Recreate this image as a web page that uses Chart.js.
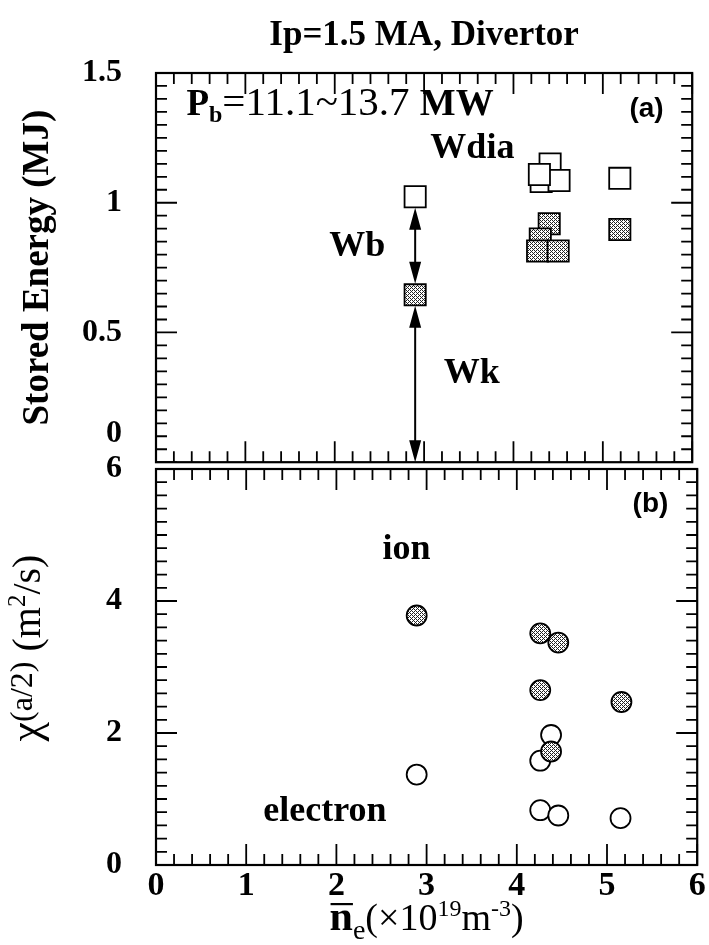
<!DOCTYPE html>
<html>
<head>
<meta charset="utf-8">
<script src="https://cdn.jsdelivr.net/npm/chart.js@4.4.1/dist/chart.umd.min.js"></script>
<style>
  html, body { margin: 0; padding: 0; background: #fff; }
  #wrap { position: relative; width: 709px; height: 945px; overflow: hidden; }
  #energy { position: absolute; left: 0; top: 0; }
  #chi { position: absolute; left: 0; top: 439px; }
</style>
</head>
<body>
<div id="wrap">
  <canvas id="energy" width="709" height="479"></canvas>
  <canvas id="chi" width="709" height="506"></canvas>
</div>
<script>
const SERIF = "'Liberation Serif', 'Times New Roman', serif";
const SANS = "'Liberation Sans', Arial, sans-serif";

// (a) stored energy vs line density
const neWdia = [2.9, 4.41, 4.31, 4.51, 4.29, 5.19];
const wdia   = [1.023, 1.149, 1.082, 1.086, 1.109, 1.094];
const neWk   = [2.9, 4.40, 4.30, 4.27, 4.50, 5.19];
const wk     = [0.645, 0.919, 0.86, 0.814, 0.814, 0.897];

// (b) diffusivity at a/2
const neIon  = [2.89, 4.26, 4.46, 4.26, 5.16, 4.38];
const chiIon = [3.78, 3.51, 3.37, 2.65, 2.47, 1.72];
const neEle  = [2.89, 4.38, 4.26, 4.26, 4.46, 5.15];
const chiEle = [1.37, 1.97, 1.58, 0.83, 0.75, 0.71];

// tick labels
const neTicks = [0, 1, 2, 3, 4, 5, 6];
const energyTicks = [0, 0.5, 1, 1.5];
const chiTicks = [0, 2, 4, 6];

const pts = (xs, ys) => xs.map((x, i) => ({ x, y: ys[i] }));

// stippled grey used for filled markers
function dither(ctx) {
  const c = document.createElement('canvas');
  c.width = 4; c.height = 4;
  const g = c.getContext('2d');
  g.fillStyle = '#fff';
  g.fillRect(0, 0, 4, 4);
  g.fillStyle = '#222';
  [[0, 0], [2, 0], [1, 1], [0, 2], [2, 2], [3, 3]].forEach(p => g.fillRect(p[0], p[1], 1, 1));
  return ctx.createPattern(c, 'repeat');
}

function drawRich(ctx, x, y, segs, align) {
  let w = 0;
  segs.forEach(s => { ctx.font = s[1]; w += ctx.measureText(s[0]).width; });
  let cx = align === 'center' ? x - w / 2 : align === 'right' ? x - w : x;
  const starts = [];
  segs.forEach(s => {
    ctx.font = s[1];
    starts.push(cx);
    ctx.fillText(s[0], cx, y + (s[2] || 0));
    cx += ctx.measureText(s[0]).width;
  });
  return starts;
}

// frame with inward ticks on all four sides
const frameTicks = {
  id: 'frameTicks',
  afterDraw(chart, args, o) {
    const { ctx, chartArea: a, scales: { x, y } } = chart;
    const mark = (axis, minor, major, cb) => {
      const n = Math.round((axis.max - axis.min) / minor);
      for (let i = 0; i <= n; i++) {
        const v = axis.min + i * minor;
        const big = Math.abs(v / major - Math.round(v / major)) < 1e-6;
        cb(axis.getPixelForValue(v), big ? 21 : 11);
      }
    };
    ctx.save();
    ctx.strokeStyle = '#000';
    ctx.lineWidth = 1.8;
    ctx.beginPath();
    mark(x, o.xMinor, o.xMajor, (p, len) => {
      ctx.moveTo(p, a.top); ctx.lineTo(p, a.top + len);
      ctx.moveTo(p, a.bottom); ctx.lineTo(p, a.bottom - len);
    });
    mark(y, o.yMinor, o.yMajor, (p, len) => {
      ctx.moveTo(a.left, p); ctx.lineTo(a.left + len, p);
      ctx.moveTo(a.right, p); ctx.lineTo(a.right - len, p);
    });
    ctx.stroke();
    ctx.lineWidth = 2.2;
    ctx.strokeRect(a.left, a.top, a.right - a.left, a.bottom - a.top);
    ctx.restore();
  }
};

function makeNotes(items) {
  return {
    id: 'notes',
    afterDraw(chart) {
      const { ctx, scales: { x, y } } = chart;
      ctx.save();
      ctx.fillStyle = '#000';
      ctx.textBaseline = 'alphabetic';
      items.forEach(n => drawRich(ctx, x.getPixelForValue(n.at[0]), y.getPixelForValue(n.at[1]), n.segs, n.align));
      ctx.restore();
    }
  };
}

function doubleArrow(ctx, x, y1, y2) {
  const hl = 22, hw = 6;
  ctx.beginPath();
  ctx.moveTo(x, y1 + hl - 2);
  ctx.lineTo(x, y2 - hl + 2);
  ctx.stroke();
  ctx.beginPath();
  ctx.moveTo(x, y1); ctx.lineTo(x - hw, y1 + hl); ctx.lineTo(x + hw, y1 + hl); ctx.closePath();
  ctx.moveTo(x, y2); ctx.lineTo(x - hw, y2 - hl); ctx.lineTo(x + hw, y2 - hl); ctx.closePath();
  ctx.fill();
}

// Wb / Wk arrows on the first shot
const wArrows = {
  id: 'wArrows',
  afterDatasetsDraw(chart) {
    const { ctx, scales: { x, y } } = chart;
    const px = x.getPixelForValue(neWdia[0]);
    const gap = 11;
    const yTop = y.getPixelForValue(wdia[0]) + gap;
    const yMid = y.getPixelForValue(wk[0]);
    const yZero = y.getPixelForValue(0);
    ctx.save();
    ctx.strokeStyle = '#000';
    ctx.fillStyle = '#000';
    ctx.lineWidth = 2;
    doubleArrow(ctx, px, yTop, yMid - gap);
    doubleArrow(ctx, px, yMid + gap, yZero);
    ctx.restore();
  }
};

const b = s => `bold ${s}px ${SERIF}`;
const r = s => `${s}px ${SERIF}`;

const fixedTicks = list => scale => { scale.ticks = list.map(v => ({ value: v })); };
const noPad = size => scale => {
  if (scale.isHorizontal()) scale.height = size; else scale.width = size;
  scale.paddingTop = scale.paddingBottom = scale.paddingLeft = scale.paddingRight = 0;
};

// ---- (a) panel ----
const ctxA = document.getElementById('energy').getContext('2d');
const fillA = dither(ctxA);
new Chart(ctxA, {
  type: 'scatter',
  data: {
    datasets: [
      { label: 'Wdia', data: pts(neWdia, wdia), pointStyle: 'rect', pointRadius: 15,
        pointBackgroundColor: '#fff', pointBorderColor: '#000', pointBorderWidth: 1.8 },
      { label: 'Wk', data: pts(neWk, wk), pointStyle: 'rect', pointRadius: 15,
        pointBackgroundColor: fillA, pointBorderColor: '#000', pointBorderWidth: 1.8 }
    ]
  },
  options: {
    responsive: false,
    animation: false,
    devicePixelRatio: 1,
    events: [],
    layout: { padding: { top: 0, right: 9, bottom: 10, left: 0 } },
    scales: {
      x: { type: 'linear', min: 0, max: 6, display: false },
      y: {
        type: 'linear', min: 0, max: 1.5,
        afterBuildTicks: fixedTicks(energyTicks),
        afterFit: noPad(156),
        grid: { display: false, drawTicks: false },
        border: { display: false },
        ticks: {
          padding: 34, color: '#000', autoSkip: false,
          font: { family: SERIF, size: 32, weight: 'bold', lineHeight: 1.8 },
          // the zero label sits a line higher so it clears the panel below
          callback: v => v === 0 ? ['0', ''] : String(v)
        },
        title: {
          display: true, text: 'Stored Energy (MJ)', color: '#000',
          font: { family: SERIF, size: 37, weight: 'bold', lineHeight: 1.2 },
          padding: { top: 16, bottom: 0 }
        }
      }
    },
    plugins: {
      legend: { display: false },
      tooltip: { enabled: false },
      title: {
        display: true, fullSize: false, text: 'Ip=1.5 MA, Divertor', color: '#000',
        font: { family: SERIF, size: 35, weight: 'bold', lineHeight: 1.2 },
        padding: { top: 15, bottom: 16 }
      },
      frameTicks: { xMinor: 0.2, xMajor: 1, yMinor: 0.05, yMajor: 0.5 }
    }
  },
  plugins: [frameTicks, wArrows, makeNotes([
    { at: [0.34, 1.337], align: 'left', segs: [['P', b(37)], ['b', b(24), 7], ['=11.1~13.7 ', r(41)], ['MW', b(38)]] },
    { at: [5.68, 1.33], align: 'right', segs: [['(a)', `bold 28px ${SANS}`]] },
    { at: [3.07, 1.174], align: 'left', segs: [['Wdia', b(36)]] },
    { at: [1.94, 0.795], align: 'left', segs: [['Wb', b(36)]] },
    { at: [3.22, 0.307], align: 'left', segs: [['Wk', b(36)]] }
  ])]
});

// axis titles with sub/superscripts for the (b) panel
const richTitles = {
  id: 'richTitles',
  afterDraw(chart) {
    const { ctx, chartArea: a } = chart;
    ctx.save();
    ctx.fillStyle = '#000';
    ctx.textBaseline = 'alphabetic';
    // x title: n-bar_e (x10^19 m^-3)
    const cx = (a.left + a.right) / 2;
    const base = a.bottom + 65;
    const st = drawRich(ctx, cx, base, [
      ['n', b(42)], ['e', r(28), 9], ['(\u00d710', r(38)], ['19', r(24), -14],
      ['m', r(38)], ['-3', r(24), -14], [')', r(38)]
    ], 'center');
    ctx.font = b(42);
    ctx.fillRect(st[0] + 1, base - 27, ctx.measureText('n').width - 1, 2.2);
    // y title: chi(a/2) (m^2/s)
    ctx.translate(40, (a.top + a.bottom) / 2 - 19);
    ctx.rotate(-Math.PI / 2);
    drawRich(ctx, 0, 0, [
      ['\u03c7', r(44)], ['(a/2)', r(32), -8], [' (m', r(40)], ['2', r(25), -15], ['/s)', r(40)]
    ], 'center');
    ctx.restore();
  }
};

// ---- (b) panel ----
const ctxB = document.getElementById('chi').getContext('2d');
const fillB = dither(ctxB);
new Chart(ctxB, {
  type: 'scatter',
  data: {
    datasets: [
      { label: 'ion', data: pts(neIon, chiIon), pointStyle: 'circle', pointRadius: 10,
        pointBackgroundColor: fillB, pointBorderColor: '#000', pointBorderWidth: 1.8 },
      { label: 'electron', data: pts(neEle, chiEle), pointStyle: 'circle', pointRadius: 10,
        pointBackgroundColor: '#fff', pointBorderColor: '#000', pointBorderWidth: 1.8 }
    ]
  },
  options: {
    responsive: false,
    animation: false,
    devicePixelRatio: 1,
    events: [],
    layout: { padding: { top: 30, right: 9, bottom: 0, left: 0 } },
    scales: {
      x: {
        type: 'linear', min: 0, max: 6, position: 'bottom',
        afterBuildTicks: fixedTicks(neTicks),
        afterFit: noPad(80),
        grid: { display: false, drawTicks: false },
        border: { display: false },
        ticks: {
          padding: 1, color: '#000', maxRotation: 0, autoSkip: false,
          font: { family: SERIF, size: 34, weight: 'bold' }
        }
      },
      y: {
        type: 'linear', min: 0, max: 6,
        afterBuildTicks: fixedTicks(chiTicks),
        afterFit: noPad(156),
        grid: { display: false, drawTicks: false },
        border: { display: false },
        ticks: {
          padding: 34, color: '#000', autoSkip: false,
          font: { family: SERIF, size: 32, weight: 'bold' }
        }
      }
    },
    plugins: {
      legend: { display: false },
      tooltip: { enabled: false },
      frameTicks: { xMinor: 0.2, xMajor: 1, yMinor: 0.2, yMajor: 2 }
    }
  },
  plugins: [frameTicks, richTitles, makeNotes([
    { at: [5.68, 5.35], align: 'right', segs: [['(b)', `bold 28px ${SANS}`]] },
    { at: [2.51, 4.64], align: 'left', segs: [['ion', b(36)]] },
    { at: [1.19, 0.667], align: 'left', segs: [['electron', b(36)]] }
  ])]
});
</script>
</body>
</html>
